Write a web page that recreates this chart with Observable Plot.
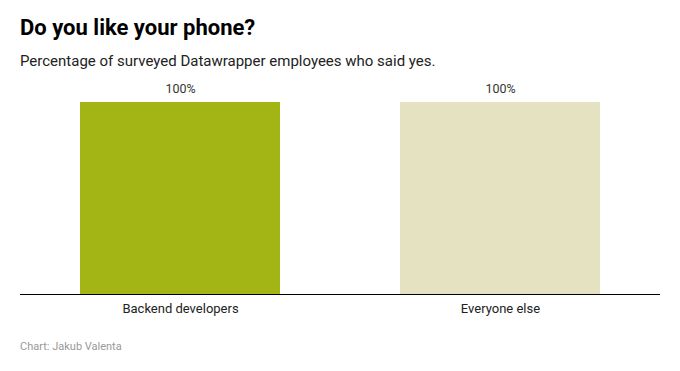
<!DOCTYPE html>
<html><head><meta charset="utf-8">
<script src="https://cdn.jsdelivr.net/npm/d3@7"></script>
<script src="https://cdn.jsdelivr.net/npm/@observablehq/plot@0.6"></script>
<style>
body{margin:0;background:#fff;font-family:Roboto,sans-serif;}
#wrap{position:relative;width:680px;height:371px;}
#title{position:absolute;left:20px;top:14px;font-size:22px;font-weight:700;color:#000;line-height:28px;margin:0;}
#sub{position:absolute;left:20px;top:51px;font-size:15px;color:#222;line-height:20px;}
#chart{position:absolute;left:0;top:75px;}
#cap{position:absolute;left:20px;top:340px;font-size:11px;color:#999;line-height:14px;}
</style></head>
<body><div id="wrap">
<div id="title">Do you like your phone?</div>
<div id="sub">Percentage of surveyed Datawrapper employees who said yes.</div>
<div id="chart"></div>
<div id="cap">Chart: Jakub Valenta</div>
</div>
<script>
const categories = ["Backend developers", "Everyone else"];
const values = [100, 100];
const colors = ["#a2b515", "#e5e2c1"];
const data = categories.map((c, i) => ({category: c, value: values[i], color: colors[i]}));

const chart = Plot.plot({
  width: 680, height: 260,
  marginLeft: 20, marginRight: 20, marginTop: 27, marginBottom: 41,
  style: {fontFamily: "Roboto, sans-serif", background: "transparent"},
  x: {domain: categories, paddingInner: 0.375, paddingOuter: 0.1875, label: null},
  y: {domain: [0, 100], axis: null},
  marks: [
    Plot.barY(data, {x: "category", y: "value", fill: "color"}),
    Plot.text(data, {x: "category", y: "value", text: d => d.value + "%", lineAnchor: "bottom", dy: -9.5, fontSize: 12.5, fill: "#333"}),
    Plot.ruleY([0], {stroke: "#000", strokeWidth: 1}),
    Plot.axisX({tickSize: 0, tickPadding: 9, fontSize: 13, fill: "#222", label: null})
  ]
});
document.getElementById("chart").appendChild(chart);
</script>
</body></html>
